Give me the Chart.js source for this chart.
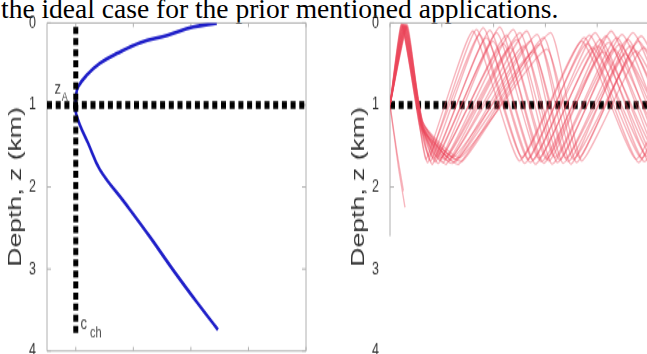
<!DOCTYPE html>
<html>
<head>
<meta charset="utf-8">
<script src="https://cdn.jsdelivr.net/npm/chart.js@4"></script>
<style>
    html, body { margin: 0; padding: 0; width: 647px; height: 354px; overflow: hidden; background: #fff; }
    .caption {
        position: absolute; left: 1px; top: -5px;
        font-family: "Liberation Serif", "Times New Roman", serif;
        font-size: 27.5px; line-height: 27.5px; color: #000; white-space: nowrap;
    }
    /* the figure in the reference is stretched vertically */
    .panel { position: absolute; top: 0; transform: scaleY(1.4); transform-origin: 0 0; }
    .panel canvas { display: block; }
    #leftPanel { left: 0; }
    #rightPanel { left: 343px; }
</style>
</head>
<body>
<div class="caption">the ideal case for the prior mentioned applications.</div>
<div class="panel" id="leftPanel"><canvas id="profileChart" width="310" height="273"></canvas></div>
<div class="panel" id="rightPanel"><canvas id="rayChart" width="306" height="273"></canvas></div>

<script>
// Sound speed profile (left panel), depth km / speed m/s
const profileDepth = [0, 0.05, 0.15, 0.24, 0.37, 0.49, 0.63, 0.78, 0.91, 1.0, 1.09, 1.24, 1.46, 1.79, 2.2, 2.61, 3.01, 3.41, 3.74];
const profileSpeed = [1514.5, 1510.4, 1505.9, 1501.2, 1497.2, 1494.2, 1492.0, 1490.4, 1490.0, 1490.0, 1490.0, 1490.7, 1492.1, 1494.2, 1498.6, 1502.9, 1506.9, 1511.1, 1514.7];

const channelSpeed = 1490;   // c_ch
const channelDepth = 1.0;    // z_A
const speedTicks = [1490, 1500, 1510, 1520, 1530];
const depthTicks = [0, 1, 2, 3, 4];
const rangeTicks = [0, 10, 20, 30, 40, 50];

// Ray paths (right panel): turning points, range km / depth km
const rayRanges = [
    [0, 2.2, 5.6, 7.0, 16.0, 25.0, 37.0, 47.5, 58],
    [0, 2.25, 5.6, 7.3, 16.7, 25.5, 37.5, 48.0, 58],
    [0, 2.3, 5.7, 7.6, 17.3, 26.0, 38.0, 48.6, 59],
    [0, 2.35, 5.7, 7.9, 18.0, 26.6, 38.5, 49.1, 59],
    [0, 2.4, 5.8, 8.2, 18.6, 27.1, 39.1, 49.7, 60],
    [0, 2.45, 5.8, 8.5, 19.3, 27.6, 39.6, 50.2, 60],
    [0, 2.5, 5.9, 8.8, 19.9, 28.1, 40.1, 50.8, 61],
    [0, 2.55, 5.9, 9.1, 20.6, 28.7, 40.6, 51.3, 61],
    [0, 2.6, 6.0, 9.4, 21.2, 29.2, 41.2, 51.9, 62],
    [0, 2.65, 6.0, 9.7, 21.9, 29.7, 41.7, 52.4, 62],
    [0, 2.7, 6.0, 10.0, 22.5, 30.2, 42.2, 53.0, 63],
    [0, 2.75, 6.1, 10.3, 23.2, 30.7, 42.7, 53.5, 63],
    [0, 2.8, 6.1, 10.6, 23.8, 31.3, 43.3, 54.1, 64],
    [0, 2.85, 6.1, 10.9, 24.5, 31.8, 43.8, 54.6, 64],
    [0, 2.9, 6.2, 11.2, 25.1, 32.3, 44.3, 55.2, 65],
    [0, 2.95, 6.2, 11.5, 25.8, 32.8, 44.8, 55.7, 65],
    [0, 3.0, 6.2, 11.8, 26.4, 33.4, 45.4, 56.3, 66],
    [0, 3.05, 6.3, 12.1, 27.1, 33.9, 45.9, 56.8, 66],
    [0, 3.1, 6.3, 12.4, 27.7, 34.4, 46.4, 57.4, 67],
    [0, 3.15, 6.3, 12.7, 28.4, 34.9, 46.9, 57.9, 67],
    [0, 3.2, 6.4, 13.0, 29.0, 35.4, 47.5, 58.5, 68],
    [0, 3.25, 6.4, 13.3, 29.7, 36.0, 48.0, 59.0, 68],
    [0, 3.3, 6.4, 13.6, 30.3, 36.5, 48.5, 59.6, 69],
    [0, 3.4, 6.4, 14.0, 31.0, 37.0, 49.0, 60.0, 69],
    [0, 1.6, 2.9],
    [0, 1.4, 2.6]
];
const rayDepths = [
    [1, 0.02, 1.20, 1.66, 0.10, 1.68, 0.22, 1.66, 0.2],
    [1, 0.01, 1.22, 1.70, 0.08, 1.64, 0.18, 1.70, 0.2],
    [1, 0.03, 1.18, 1.62, 0.14, 1.71, 0.25, 1.65, 0.2],
    [1, 0.02, 1.25, 1.68, 0.06, 1.66, 0.15, 1.69, 0.2],
    [1, 0.04, 1.20, 1.72, 0.18, 1.70, 0.30, 1.63, 0.2],
    [1, 0.02, 1.23, 1.65, 0.09, 1.67, 0.12, 1.71, 0.2],
    [1, 0.05, 1.19, 1.69, 0.22, 1.72, 0.28, 1.66, 0.2],
    [1, 0.02, 1.26, 1.63, 0.12, 1.65, 0.20, 1.68, 0.2],
    [1, 0.03, 1.21, 1.71, 0.05, 1.69, 0.35, 1.64, 0.2],
    [1, 0.02, 1.24, 1.67, 0.25, 1.71, 0.16, 1.70, 0.2],
    [1, 0.06, 1.20, 1.64, 0.15, 1.66, 0.24, 1.67, 0.2],
    [1, 0.02, 1.27, 1.70, 0.30, 1.68, 0.10, 1.72, 0.2],
    [1, 0.04, 1.22, 1.66, 0.08, 1.72, 0.32, 1.65, 0.2],
    [1, 0.03, 1.25, 1.72, 0.20, 1.64, 0.18, 1.69, 0.2],
    [1, 0.02, 1.19, 1.62, 0.12, 1.70, 0.26, 1.63, 0.2],
    [1, 0.05, 1.28, 1.68, 0.28, 1.67, 0.14, 1.71, 0.2],
    [1, 0.03, 1.23, 1.65, 0.10, 1.71, 0.38, 1.66, 0.2],
    [1, 0.02, 1.26, 1.71, 0.22, 1.65, 0.20, 1.68, 0.2],
    [1, 0.06, 1.21, 1.63, 0.35, 1.69, 0.28, 1.64, 0.2],
    [1, 0.03, 1.29, 1.69, 0.14, 1.72, 0.12, 1.70, 0.2],
    [1, 0.04, 1.24, 1.66, 0.26, 1.66, 0.34, 1.67, 0.2],
    [1, 0.02, 1.27, 1.72, 0.18, 1.70, 0.22, 1.65, 0.2],
    [1, 0.05, 1.22, 1.64, 0.32, 1.64, 0.16, 1.71, 0.2],
    [1, 0.03, 1.30, 1.68, 0.12, 1.68, 0.30, 1.66, 0.2],
    [1, 1.75, 2.25],
    [1, 1.60, 2.05]
];

const axisFont = { family: "Liberation Sans", size: 12.5 };
const titleFont = { family: "Liberation Sans", size: 19 };

// MATLAB style box with inward ticks
const matlabAxes = {
    id: "matlabAxes",
    beforeDatasetsDraw(chart, args, opts) {
        const { ctx, chartArea: a, scales } = chart;
        const xs = scales.x, ys = scales.y;
        const yEnd = opts.leftTo != null ? ys.getPixelForValue(opts.leftTo) : a.bottom;
        ctx.save();
        ctx.strokeStyle = opts.color || "#aaa";
        ctx.lineWidth = 1;
        ctx.beginPath();
        if (opts.top) { ctx.moveTo(a.left, a.top); ctx.lineTo(a.right, a.top); }
        if (opts.bottom) { ctx.moveTo(a.left, a.bottom); ctx.lineTo(a.right, a.bottom); }
        if (opts.left) { ctx.moveTo(a.left, a.top); ctx.lineTo(a.left, yEnd); }
        if (opts.right) { ctx.moveTo(a.right, a.top); ctx.lineTo(a.right, a.bottom); }
        xs.ticks.forEach(t => {
            const px = xs.getPixelForValue(t.value);
            if (opts.top) { ctx.moveTo(px, a.top); ctx.lineTo(px, a.top + 3); }
            if (opts.bottom) { ctx.moveTo(px, a.bottom); ctx.lineTo(px, a.bottom - 3); }
        });
        ys.ticks.forEach(t => {
            const py = ys.getPixelForValue(t.value);
            if (py > yEnd + 0.5) return;
            if (opts.left) { ctx.moveTo(a.left, py); ctx.lineTo(a.left + 4, py); }
            if (opts.right) { ctx.moveTo(a.right, py); ctx.lineTo(a.right - 4, py); }
        });
        ctx.stroke();
        ctx.restore();
    }
};

// small text notes next to data points
const notes = {
    id: "notes",
    afterDatasetsDraw(chart, args, opts) {
        const { ctx, scales } = chart;
        (opts.items || []).forEach(it => {
            const px = scales.x.getPixelForValue(it.x) + it.dx;
            const py = scales.y.getPixelForValue(it.y) + it.dy;
            ctx.save();
            ctx.font = it.size + "px 'Liberation Sans'";
            ctx.fillStyle = "#444";
            ctx.textAlign = "center";
            ctx.textBaseline = "middle";
            ctx.fillText(it.text, px, py);
            ctx.restore();
        });
    }
};

function yScale() {
    return {
        type: "linear", reverse: true, min: 0, max: 4,
        afterBuildTicks: s => { s.ticks = depthTicks.map(v => ({ value: v })); },
        ticks: { color: "#333", font: axisFont, padding: 3 },
        grid: { display: false },
        border: { display: false },
        title: { display: true, text: "Depth, z (km)", color: "#333", font: titleFont, padding: { top: 4, bottom: 0 } },
        afterFit: s => { s.width = 47; }
    };
}

function xScale(min, max, tickValues) {
    return {
        type: "linear", min, max,
        afterBuildTicks: s => { s.ticks = tickValues.map(v => ({ value: v })); },
        ticks: { display: false },
        grid: { display: false },
        border: { display: false }
    };
}

const baseOptions = {
    responsive: false,
    animation: false,
    events: [],
    layout: { padding: { top: 16.4, bottom: 14.3, left: 0, right: 4 } },
    plugins: { legend: { display: false }, tooltip: { enabled: false } }
};

new Chart(document.getElementById("profileChart"), {
    type: "scatter",
    data: {
        datasets: [
            {
                data: [{ x: channelSpeed, y: 0.05 }, { x: channelSpeed, y: 3.8 }],
                showLine: true, borderColor: "#000", borderWidth: 5, borderDash: [5, 2.9], pointRadius: 0
            },
            {
                data: [{ x: 1485, y: channelDepth }, { x: 1530, y: channelDepth }],
                showLine: true, borderColor: "#000", borderWidth: 5.7, borderDash: [5, 3.7], pointRadius: 0, clip: false
            },
            {
                data: profileSpeed.map((c, i) => ({ x: c, y: profileDepth[i] })),
                showLine: true, borderColor: "rgb(30,30,200)", borderWidth: 2.6, pointRadius: 0, tension: 0.4
            }
        ]
    },
    options: {
        ...baseOptions,
        scales: { x: xScale(1485, 1530, speedTicks), y: yScale() },
        plugins: {
            ...baseOptions.plugins,
            matlabAxes: { top: true, bottom: true, left: true, right: true, color: "#b0b0b0" },
            notes: {
                items: [
                    { text: "z", x: channelSpeed, y: channelDepth, dx: -18, dy: -12, size: 13 },
                    { text: "A", x: channelSpeed, y: channelDepth, dx: -11, dy: -5.5, size: 9 },
                    { text: "c", x: channelSpeed, y: 3.8, dx: 8, dy: -7.6, size: 13 },
                    { text: "ch", x: channelSpeed, y: 3.8, dx: 20, dy: -1.3, size: 11 }
                ]
            }
        }
    },
    plugins: [matlabAxes, notes]
});

const rayDatasets = rayRanges.map((r, i) => ({
    data: r.map((x, j) => ({ x, y: rayDepths[i][j] })),
    showLine: true,
    borderColor: "rgba(235,70,90,0.4)",
    borderWidth: 1.3,
    pointRadius: 0,
    tension: 0.15
}));

new Chart(document.getElementById("rayChart"), {
    type: "scatter",
    data: {
        datasets: [
            ...rayDatasets,
            {
                data: [{ x: 0, y: channelDepth }, { x: 50, y: channelDepth }],
                showLine: true, borderColor: "#000", borderWidth: 5.7, borderDash: [5, 3.7], pointRadius: 0
            }
        ]
    },
    options: {
        ...baseOptions,
        layout: { padding: { top: 16.4, bottom: 14.3, left: 0, right: 0 } },
        scales: { x: xScale(0, 50, rangeTicks), y: yScale() },
        plugins: {
            ...baseOptions.plugins,
            matlabAxes: { top: true, left: true, leftTo: 2.6, color: "#b0b0b0" }
        }
    },
    plugins: [matlabAxes]
});
</script>
</body>
</html>
